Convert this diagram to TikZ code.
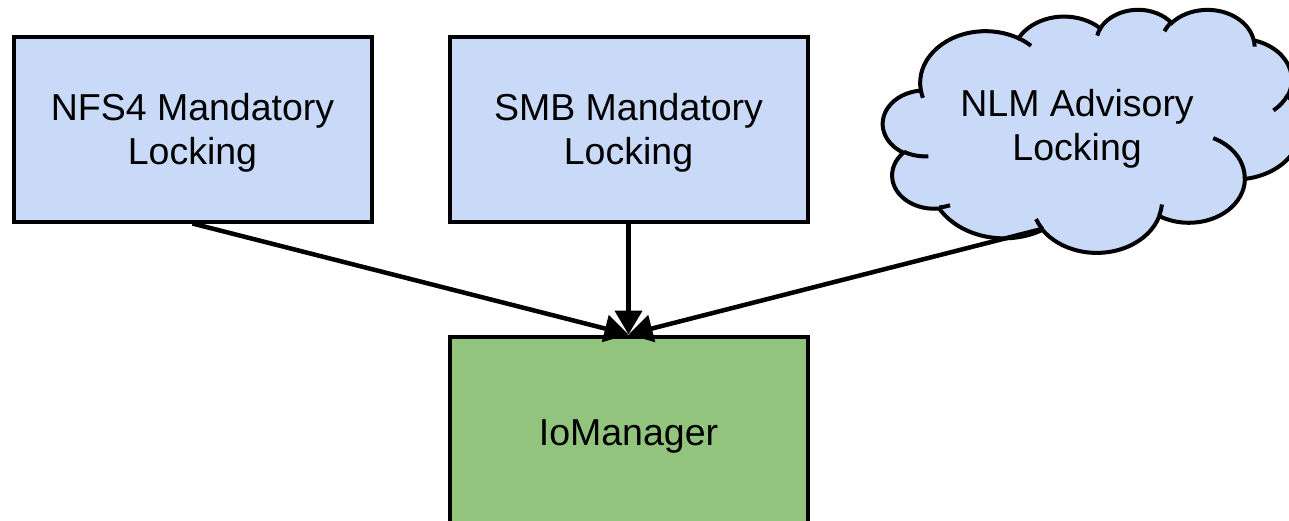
\documentclass[tikz,border=0pt]{standalone}
\usepackage{fontspec}
\setmainfont{Liberation Sans}
\usetikzlibrary{arrows.meta}

\definecolor{boxblue}{HTML}{C9DAF8}
\definecolor{boxgreen}{HTML}{93C47D}

% zero-width strut: ascent and descent of the font on every line
\newcommand\linestrut{\rule[-.212em]{0pt}{1.117em}}

% Cloud outline built from elliptical arcs, each given by its radii and by
% the start and sweep of its direction angle (shape space 43.2 x 43.2)
\newcommand\cloudouter{}
\newcommand\cloudinner{}
\newcommand\cloudmove[3]{\xdef#1{#1 (#2,#3)}}
\newcommand\cloudarc[5]{%
  \pgfmathsetmacro\cldA{atan2((#2)*sin(#4),(#3)*cos(#4))}%
  \pgfmathsetmacro\cldB{atan2((#2)*sin((#4)+(#5)),(#3)*cos((#4)+(#5)))}%
  \pgfmathsetmacro\cldD{\cldB-\cldA}%
  \pgfmathsetmacro\cldD{\cldD+360*((#5)>0)*(\cldD<0)-360*((#5)<0)*(\cldD>0)}%
  \xdef#1{#1 arc[start angle=\cldA, delta angle=\cldD, x radius=#2, y radius=#3]}%
}

% outer border
\cloudmove\cloudouter{3.900}{14.370}
\cloudarc\cloudouter{6.753}{9.190}{-190.4875}{123.7805}
\cloudarc\cloudouter{5.333}{7.267}{-144.1024}{89.9452}
\cloudarc\cloudouter{4.365}{5.945}{-145.8079}{99.7230}
\cloudarc\cloudouter{4.857}{6.595}{-130.9861}{117.2417}
\cloudarc\cloudouter{5.333}{7.273}{-78.7089}{109.0269}
\cloudarc\cloudouter{6.775}{9.220}{-46.2673}{130.2690}
\cloudarc\cloudouter{5.785}{7.867}{0.6250}{114.0333}
\cloudarc\cloudouter{6.752}{9.215}{22.4516}{115.1726}
\cloudarc\cloudouter{7.720}{10.543}{66.2426}{75.7110}
\cloudarc\cloudouter{4.360}{5.918}{-274.9421}{146.7356}
\cloudarc\cloudouter{4.345}{5.945}{-246.8285}{152.5189}

% inner curls where the puffs overlap
\cloudmove\cloudinner{4.693}{26.177}
\cloudarc\cloudinner{4.345}{5.945}{86.7420}{26.4295}
\cloudmove\cloudinner{6.928}{34.899}
\cloudarc\cloudinner{4.360}{5.918}{73.6105}{11.4475}
\cloudmove\cloudinner{16.478}{39.090}
\cloudarc\cloudinner{6.752}{9.215}{137.6242}{14.0811}
\cloudmove\cloudinner{28.827}{34.751}
\cloudarc\cloudinner{6.752}{9.215}{6.4533}{15.9984}
\cloudmove\cloudinner{34.129}{22.954}
\cloudarc\cloudinner{5.785}{7.867}{-70.2924}{70.9174}
\cloudmove\cloudinner{41.798}{15.354}
\cloudarc\cloudinner{5.333}{7.273}{30.3180}{27.7515}
\cloudmove\cloudinner{38.324}{5.426}
\cloudarc\cloudinner{4.857}{6.595}{-13.7443}{14.8589}
\cloudmove\cloudinner{29.078}{3.952}
\cloudarc\cloudinner{4.857}{6.595}{-149.1815}{18.1954}
\cloudmove\cloudinner{22.141}{4.720}
\cloudarc\cloudinner{4.365}{5.945}{-163.4943}{17.6864}
\cloudmove\cloudinner{14.000}{5.192}
\cloudarc\cloudinner{6.753}{9.190}{-66.7070}{12.3194}
\cloudmove\cloudinner{4.127}{15.789}
\cloudarc\cloudinner{6.753}{9.190}{157.6544}{11.8582}

\begin{document}
\begin{tikzpicture}[
  x=1pt, y=-1pt,
  labelfont/.style={font=\fontsize{37.5}{44}\selectfont, align=center},
  box/.style={labelfont, draw=black, line width=4pt, fill=boxblue,
    minimum width=358, minimum height=184.5, inner sep=0pt},
  cloudshape/.style={draw=black, line width=4pt, fill=boxblue},
  cloudcurl/.style={draw=black, line width=4pt},
  conn/.style={line width=4.5pt, -{Triangle[length=24pt,width=27pt]}}
]
\useasboundingbox (0,0) rectangle (1289,520);
\clip (0,0) rectangle (1289,520);

% cloud
\begin{scope}[shift={(883,9)}, x=1pt, y=1pt, xscale=9.6759, yscale=-5.625]
  \edef\cloudcmd{\noexpand\path[cloudshape] \cloudouter -- cycle;}\cloudcmd
  \edef\cloudcmd{\noexpand\path[cloudcurl] \cloudinner;}\cloudcmd
  \coordinate (cloudlink) at (16.478,39.090);
\end{scope}
\node[labelfont] (nlm) at (1077.1,125.5) {\linestrut NLM Advisory\\\linestrut Locking};

% boxes
\node[box] (nfs) at (192.5,129.25) {\linestrut NFS4 Mandatory\\\linestrut Locking};
\node[box] (smb) at (628.5,129.25) {\linestrut SMB Mandatory\\\linestrut Locking};
\node[box, fill=boxgreen, minimum height=191] (io) at (628.5,432) {\linestrut IoManager};

% connectors
\draw[conn] (nfs.south) -- (io.north);
\draw[conn] (smb.south) -- (io.north);
\draw[conn] (cloudlink) -- (io.north);
\end{tikzpicture}
\end{document}
